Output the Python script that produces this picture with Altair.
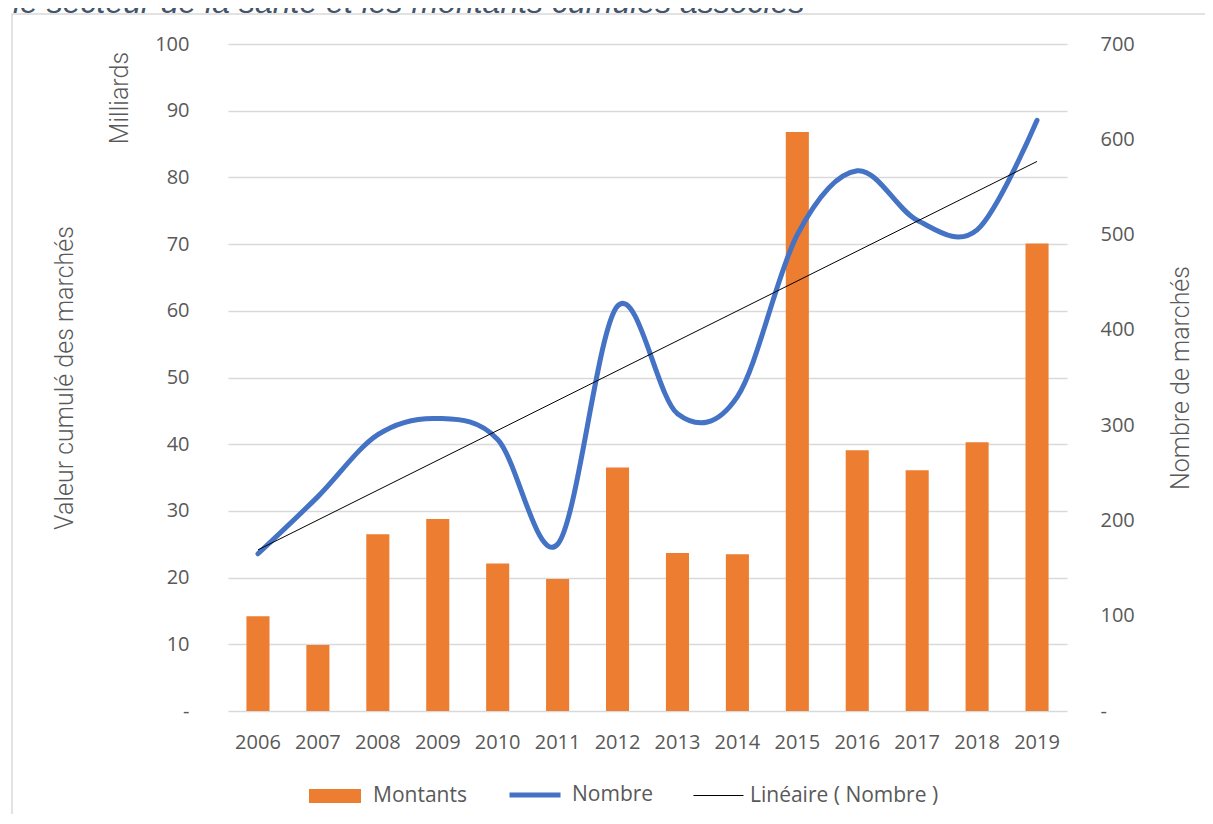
import json
import altair as alt
import pandas as pd

# ---- data ----
years = [2006, 2007, 2008, 2009, 2010, 2011, 2012, 2013, 2014, 2015, 2016, 2017, 2018, 2019]
montants = [14.2, 9.9, 26.5, 28.8, 22.1, 19.8, 36.5, 23.7, 23.5, 86.8, 39.1, 36.1, 40.3, 70.1]
nombre = [165, 225, 290, 307, 285, 175, 425, 312, 330, 500, 567, 515, 505, 620]
left_ticks = [0, 10, 20, 30, 40, 50, 60, 70, 80, 90, 100]
right_ticks = [0, 100, 200, 300, 400, 500, 600, 700]

title_text = ["le secteur de la santé et les montants cumulés associés"]
units_text = ["Milliards"]
left_title = "Valeur cumulé des marchés"
right_title = "Nombre de marchés"
series = ["Montants", "Nombre", "Linéaire ( Nombre )"]

df = pd.DataFrame({"year": years, "montants": montants, "nombre": nombre})

W, H = 839, 667
GREY = "#595959"
GRID = "#D9D9D9"
TICK_FONT = "Open Sans"
TITLE_FONT = "Roboto"
TITLE_SIZE = 25
TITLE_WEIGHT = 300

x_enc = alt.X(
    "year:O",
    title=None,
    scale=alt.Scale(paddingInner=0.615, paddingOuter=0.3075),
    axis=alt.Axis(labelAngle=0, labelFont=TICK_FONT, labelFontSize=20, labelColor=GREY,
                  labelPadding=21, ticks=False, tickSize=0, domain=False, grid=False),
)

y_left = alt.Y(
    "montants:Q",
    scale=alt.Scale(domain=[0, 100], nice=False),
    axis=alt.Axis(orient="left", values=left_ticks, title=left_title,
                  titleFont=TITLE_FONT, titleFontSize=TITLE_SIZE, titleFontWeight=TITLE_WEIGHT,
                  titleColor=GREY, titleAngle=270, titleX=-164, titleY=H / 2,
                  titleBaseline="middle", titleAlign="center",
                  labelExpr="datum.value == 0 ? '-' : datum.label",
                  labelFont=TICK_FONT, labelFontSize=20, labelColor=GREY, labelPadding=39,
                  ticks=False, tickSize=0, domain=False, grid=True, gridColor=GRID,
                  gridWidth=1.5),
)

y_right = alt.Y(
    "nombre:Q",
    scale=alt.Scale(domain=[0, 700], nice=False),
    axis=alt.Axis(orient="right", values=right_ticks, title=right_title,
                  titleFont=TITLE_FONT, titleFontSize=TITLE_SIZE, titleFontWeight=TITLE_WEIGHT,
                  titleColor=GREY, titleAngle=270, titleX=113, titleY=H / 2,
                  titleBaseline="middle", titleAlign="center",
                  labelExpr="datum.value == 0 ? '-' : datum.label",
                  labelFont=TICK_FONT, labelFontSize=20, labelColor=GREY, labelPadding=33,
                  ticks=False, tickSize=0, domain=False, grid=False),
)


def legend(x, y, sym, size, sw, offset):
    return alt.Legend(title=None, orient="none", legendX=x, legendY=y, direction="horizontal",
                      symbolType=sym, symbolSize=size, symbolStrokeWidth=sw, padding=0,
                      labelFont=TICK_FONT, labelFontSize=21, labelColor=GREY,
                      labelOffset=offset, labelLimit=400)


def label_expr(s):
    return json.dumps(s, ensure_ascii=False)


bars = alt.Chart(df).transform_calculate(serie=label_expr(series[0])).mark_bar().encode(
    x=x_enc,
    y=y_left,
    color=alt.Color("serie:N", scale=alt.Scale(range=["#ED7D31"]),
                    legend=legend(81, 726, "M-1,-0.269H1V0.269H-1Z", 2704, 0, 12)),
)

line = alt.Chart(df).transform_calculate(serie=label_expr(series[1])).mark_line(
    interpolate="cardinal", strokeWidth=5, strokeCap="round"
).encode(
    x=x_enc,
    y=y_right,
    color=alt.Color("serie:N", scale=alt.Scale(range=["#4472C4"]),
                    legend=legend(279, 723, "stroke", 2601, 5, 9)),
)

trend = alt.Chart(df).transform_regression("year", "nombre").transform_calculate(
    serie=label_expr(series[2])
).mark_line(strokeWidth=1).encode(
    x=x_enc,
    y=y_right,
    color=alt.Color("serie:N", scale=alt.Scale(range=["#000000"]),
                    legend=legend(465, 726, "stroke", 2500, 1, 6)),
)

border = alt.Chart(pd.DataFrame({"a": [0]})).mark_rect(
    fill="transparent", stroke=GRID, strokeWidth=1.5
).encode(x=alt.value(-216), x2=alt.value(W + 200), y=alt.value(-30), y2=alt.value(H + 200))

title_mark = alt.Chart(pd.DataFrame({"t": title_text})).mark_text(
    align="left", baseline="alphabetic", font="Liberation Sans", fontStyle="italic",
    fontSize=32, color="#44546A"
).encode(x=alt.value(-215), y=alt.value(-31), text="t:N")

units_mark = alt.Chart(pd.DataFrame({"t": units_text})).mark_text(
    align="center", baseline="middle", angle=270, font=TITLE_FONT, fontSize=TITLE_SIZE,
    fontWeight=TITLE_WEIGHT, color=GREY
).encode(x=alt.value(-108), y=alt.value(54), text="t:N")

inner = alt.layer(line, trend).resolve_scale(color="independent")

chart = alt.layer(border, bars, inner, title_mark, units_mark).resolve_scale(
    y="independent", color="independent"
).properties(
    width=W, height=H,
    autosize=alt.AutoSizeParams(type="none"),
    padding={"left": 220, "top": 36, "right": 138, "bottom": 103},
    background="white",
).configure_view(stroke="transparent")

chart.save("out.html", embed_options={"renderer": "svg", "actions": False})
